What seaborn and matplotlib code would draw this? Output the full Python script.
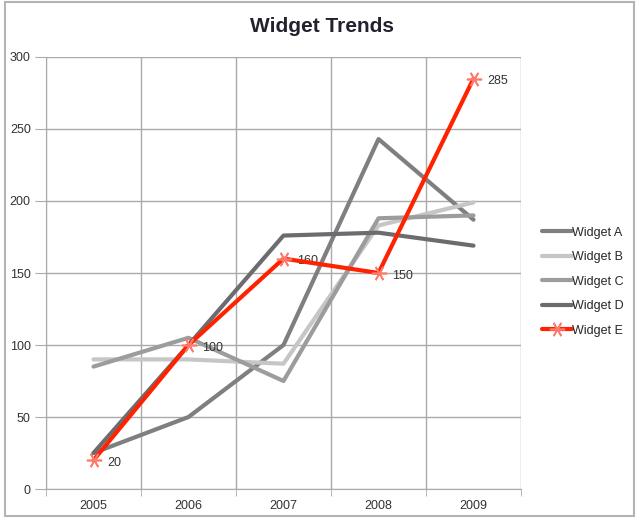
import matplotlib
matplotlib.use("Agg")
import matplotlib.pyplot as plt
from matplotlib.patches import Rectangle
import seaborn as sns
import pandas as pd

years = ["2005", "2006", "2007", "2008", "2009"]
widget_a = [25, 50, 100, 243, 187]
widget_b = [90, 90, 87, 183, 199]
widget_c = [85, 105, 75, 188, 190]
widget_d = [25, 100, 176, 178, 169]
widget_e = [20, 100, 160, 150, 285]

series = {
    "Widget A": widget_a,
    "Widget B": widget_b,
    "Widget C": widget_c,
    "Widget D": widget_d,
    "Widget E": widget_e,
}
colors = {
    "Widget A": "#7f7f82",
    "Widget B": "#c6c6c6",
    "Widget C": "#9c9c9c",
    "Widget D": "#6c6c70",
    "Widget E": "#ff2200",
}

sns.set_style("white")
plt.rcParams["font.family"] = ["Liberation Sans", "DejaVu Sans"]

fig = plt.figure(figsize=(6.39, 5.18), dpi=100)
fig.patches.append(Rectangle((5 / 639, 2 / 518), 629 / 639, 514 / 518,
                             transform=fig.transFigure, fill=False,
                             edgecolor="#b4b4b4", linewidth=1.5))
ax = fig.add_axes([46 / 639, 29 / 518, 475 / 639, 432 / 518])

for name, vals in series.items():
    df = pd.DataFrame({"year": years, "value": vals})
    if name == "Widget E":
        sns.lineplot(data=df, x="year", y="value", ax=ax, color=colors[name],
                     lw=3, label=name, marker=(6, 2, 90), markersize=11,
                     markeredgecolor="#ff7a6a", markeredgewidth=1.2, zorder=5)
    else:
        sns.lineplot(data=df, x="year", y="value", ax=ax, color=colors[name],
                     lw=3, label=name, zorder=3)

for i, v in enumerate(widget_e):
    ax.annotate(str(v), (i, v), xytext=(10, -2), textcoords="offset points",
                va="center", ha="left", fontsize=9, color="#333333")

ax.set_xlim(-0.5, 4.5)
ax.set_ylim(0, 300)
ax.set_yticks(range(0, 301, 50))
ax.set_xticks(range(5))
ax.set_xticks([i - 0.5 for i in range(6)], minor=True)
ax.set_xticklabels(years)
ax.tick_params(axis="x", which="major", length=0, pad=8, labelsize=9, colors="#333333")
ax.tick_params(axis="x", which="minor", length=5, color="#aaaaaa", bottom=True)
ax.tick_params(axis="y", length=8, left=True, labelsize=9, labelcolor="#333333",
               color="#aaaaaa", pad=3)
ax.grid(axis="y", color="#aaaaaa", lw=1)
ax.grid(axis="x", which="minor", color="#aaaaaa", lw=1)
ax.set_xlabel("")
ax.set_ylabel("")
for side in ["top", "right"]:
    ax.spines[side].set_visible(False)
for side in ["left", "bottom"]:
    ax.spines[side].set_color("#aaaaaa")

fig.text(322 / 639, 1 - 27 / 518, "Widget Trends", ha="center", va="center",
         fontsize=15, fontweight="bold", color="#22222e")

ax.legend(loc="center left", bbox_to_anchor=(1.02, 0.48), frameon=False,
          fontsize=9, handlelength=2.4, handletextpad=0.0, labelspacing=1.0)

fig.savefig("out.png", dpi=100)
